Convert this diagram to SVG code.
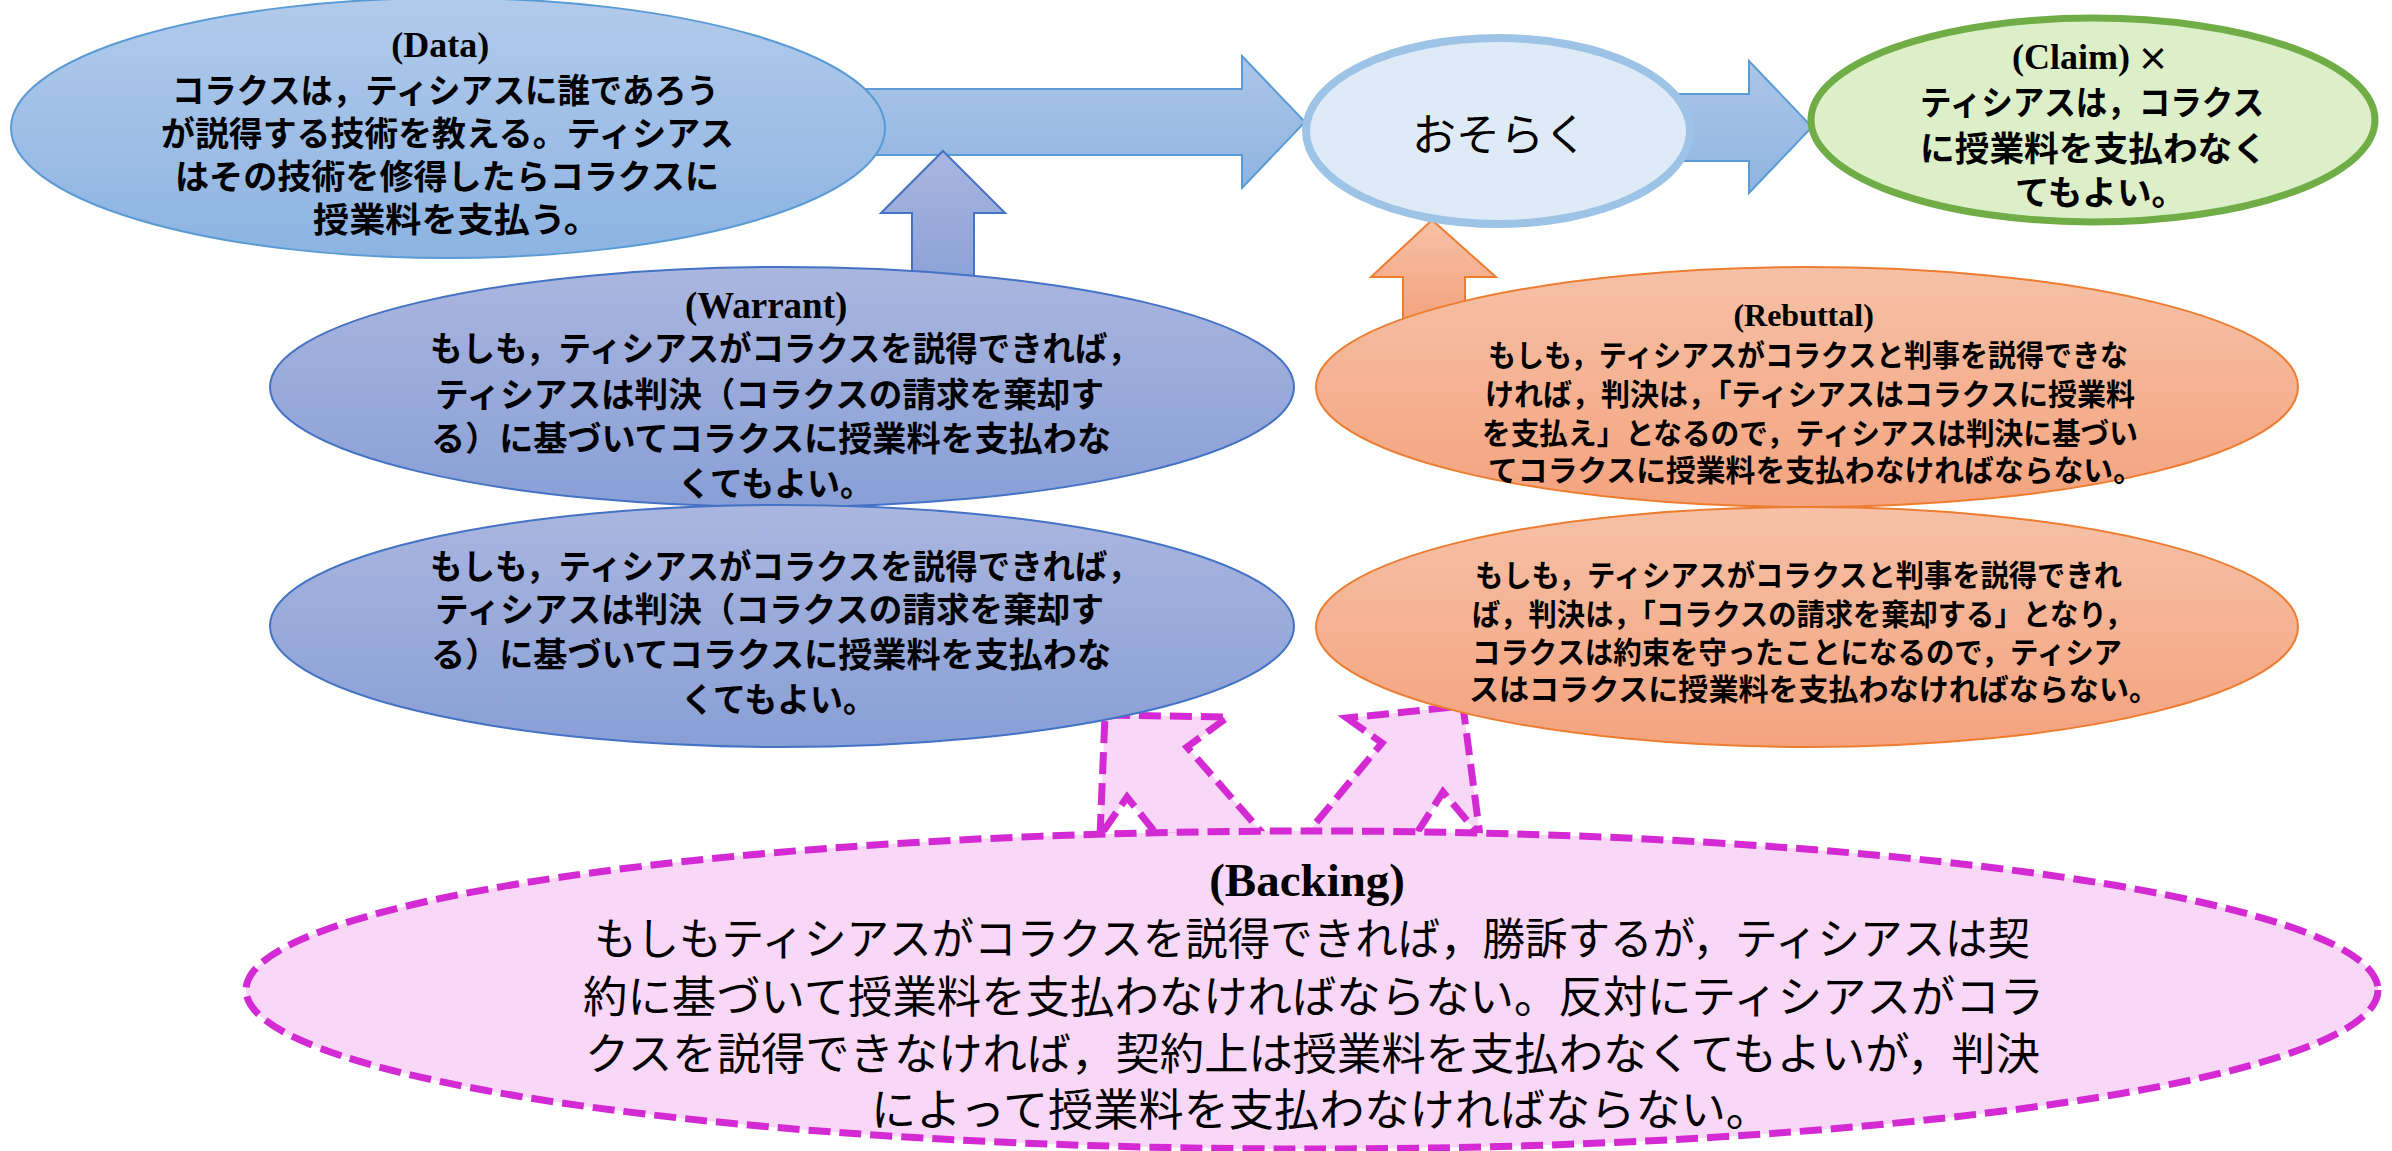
<svg xmlns="http://www.w3.org/2000/svg" width="2392" height="1151" viewBox="0 0 2392 1151">
<defs>
<linearGradient id="gData" x1="0" y1="0" x2="0" y2="1"><stop offset="0" stop-color="#b2cbeb"/><stop offset="1" stop-color="#8cb3e2"/></linearGradient>
<linearGradient id="gArrow" x1="0" y1="0" x2="0" y2="1"><stop offset="0" stop-color="#abc6e8"/><stop offset="1" stop-color="#8fb4e1"/></linearGradient>
<linearGradient id="gWar" x1="0" y1="0" x2="0" y2="1"><stop offset="0" stop-color="#aab6df"/><stop offset="1" stop-color="#889fd6"/></linearGradient>
<linearGradient id="gReb" x1="0" y1="0" x2="0" y2="1"><stop offset="0" stop-color="#f6c1a7"/><stop offset="1" stop-color="#f4a37e"/></linearGradient>
<style>
.jp{font-family:"Noto Sans CJK JP","Noto Sans CJK SC",sans-serif;font-weight:700;fill:#000;}
.jpn{font-family:"Noto Sans CJK JP","Noto Sans CJK SC",sans-serif;font-weight:400;fill:#000;}
.lat{font-family:"Liberation Serif","Times New Roman",serif;font-weight:700;}
.dash{fill:#f9d7f6;stroke:#d42ad4;stroke-width:7;stroke-dasharray:22 9;stroke-linejoin:miter;}
</style>
</defs>
<rect width="2392" height="1151" fill="#fff"/>
<g id="connectors">
<path d="M800,89 L1242,89 L1242,56 L1305,122 L1242,188 L1242,155 L800,155 Z" fill="url(#gArrow)" stroke="#5b9bd5" stroke-width="2"/>
<path d="M1600,94 L1749,94 L1749,61 L1812,127 L1749,193 L1749,161 L1600,161 Z" fill="url(#gArrow)" stroke="#5b9bd5" stroke-width="2"/>
<path d="M943,151 L1005,213 L974,213 L974,295 L912,295 L912,213 L881,213 Z" fill="url(#gWar)" stroke="#4472c4" stroke-width="2"/>
<path d="M1432,220 L1496,277 L1465,277 L1465,320 L1403,320 L1403,277 L1371,277 Z" fill="url(#gReb)" stroke="#ed7d31" stroke-width="2"/>
<polygon class="dash" points="1100,836 1105,715 1228,717 1187,747 1265,836 1158,836 1127,797"/>
<polygon class="dash" points="1347,718 1382,743 1305,836 1415,836 1443,792 1480,836 1463,706"/>
</g>
<g id="data">
<ellipse cx="448" cy="128" rx="437" ry="130" fill="url(#gData)" stroke="#5b9bd5" stroke-width="2"/>
<text class="jp" font-size="34" dominant-baseline="central" lengthAdjust="spacingAndGlyphs">
<tspan class="lat" x="444" y="45" font-size="36" text-anchor="middle">(Data)</tspan>
<tspan x="172" y="88" textLength="547" lengthAdjust="spacingAndGlyphs">コラクスは，ティシアスに誰であろう</tspan>
<tspan x="161" y="131" textLength="573" lengthAdjust="spacingAndGlyphs">が説得する技術を教える。ティシアス</tspan>
<tspan x="175" y="174" textLength="544" lengthAdjust="spacingAndGlyphs">はその技術を修得したらコラクスに</tspan>
<tspan x="313" y="217" textLength="287" lengthAdjust="spacingAndGlyphs">授業料を支払う。</tspan>
</text>
</g>
<g id="probably">
<ellipse cx="1498" cy="131" rx="192" ry="93" fill="#deebf7" stroke="#9dc3e6" stroke-width="8"/>
<text class="jpn" x="1500" y="132" font-size="44" text-anchor="middle" dominant-baseline="central">おそらく</text>
</g>
<g id="claim">
<ellipse cx="2093" cy="120" rx="282" ry="102" fill="#dcefc9" stroke="#70ad47" stroke-width="7"/>
<text class="jp" font-size="34" dominant-baseline="central">
<tspan class="lat" x="2012" y="57" font-size="36">(Claim)</tspan><tspan x="2137" y="57" font-size="32">×</tspan>
<tspan x="1920" y="100" textLength="344" lengthAdjust="spacingAndGlyphs">ティシアスは，コラクス</tspan>
<tspan x="1920" y="146" textLength="347" lengthAdjust="spacingAndGlyphs">に授業料を支払わなく</tspan>
<tspan x="2015" y="190" textLength="171" lengthAdjust="spacingAndGlyphs">てもよい。</tspan>
</text>
</g>
<g id="warrant">
<ellipse cx="782" cy="387" rx="512" ry="120" fill="url(#gWar)" stroke="#4472c4" stroke-width="2"/>
<text class="jp" font-size="34" dominant-baseline="central">
<tspan class="lat" x="770" y="305" font-size="37" text-anchor="middle">(Warrant)</tspan>
<tspan x="430" y="346" textLength="710" lengthAdjust="spacingAndGlyphs">もしも，ティシアスがコラクスを説得できれば，</tspan>
<tspan x="435" y="392" textLength="669" lengthAdjust="spacingAndGlyphs">ティシアスは判決（コラクスの請求を棄却す</tspan>
<tspan x="431" y="436" textLength="680" lengthAdjust="spacingAndGlyphs">る）に基づいてコラクスに授業料を支払わな</tspan>
<tspan x="678" y="481" textLength="195" lengthAdjust="spacingAndGlyphs">くてもよい。</tspan>
</text>
</g>
<g id="warrant2">
<ellipse cx="782" cy="626" rx="512" ry="121" fill="url(#gWar)" stroke="#4472c4" stroke-width="2"/>
<text class="jp" font-size="34" dominant-baseline="central">
<tspan x="430" y="564" textLength="710" lengthAdjust="spacingAndGlyphs">もしも，ティシアスがコラクスを説得できれば，</tspan>
<tspan x="435" y="607" textLength="669" lengthAdjust="spacingAndGlyphs">ティシアスは判決（コラクスの請求を棄却す</tspan>
<tspan x="431" y="652" textLength="680" lengthAdjust="spacingAndGlyphs">る）に基づいてコラクスに授業料を支払わな</tspan>
<tspan x="681" y="697" textLength="195" lengthAdjust="spacingAndGlyphs">くてもよい。</tspan>
</text>
</g>
<g id="rebuttal">
<ellipse cx="1807" cy="387" rx="491" ry="120" fill="url(#gReb)" stroke="#ed7d31" stroke-width="2"/>
<text class="jp" font-size="30" dominant-baseline="central">
<tspan class="lat" x="1807" y="315" font-size="32" text-anchor="middle">(Rebuttal)</tspan>
<tspan x="1488" y="353" textLength="640" lengthAdjust="spacingAndGlyphs">もしも，ティシアスがコラクスと判事を説得できな</tspan>
<tspan x="1485" y="392" textLength="650" lengthAdjust="spacingAndGlyphs">ければ，判決は，「ティシアスはコラクスに授業料</tspan>
<tspan x="1482" y="431" textLength="656" lengthAdjust="spacingAndGlyphs">を支払え」となるので，ティシアスは判決に基づい</tspan>
<tspan x="1488" y="468" textLength="655" lengthAdjust="spacingAndGlyphs">てコラクスに授業料を支払わなければならない。</tspan>
</text>
</g>
<g id="rebuttal2">
<ellipse cx="1807" cy="627" rx="491" ry="120" fill="url(#gReb)" stroke="#ed7d31" stroke-width="2"/>
<text class="jp" font-size="30" dominant-baseline="central">
<tspan x="1475" y="573" textLength="647" lengthAdjust="spacingAndGlyphs">もしも，ティシアスがコラクスと判事を説得できれ</tspan>
<tspan x="1472" y="612" textLength="661" lengthAdjust="spacingAndGlyphs">ば，判決は，「コラクスの請求を棄却する」となり，</tspan>
<tspan x="1472" y="650" textLength="650" lengthAdjust="spacingAndGlyphs">コラクスは約束を守ったことになるので，ティシア</tspan>
<tspan x="1469" y="687" textLength="690" lengthAdjust="spacingAndGlyphs">スはコラクスに授業料を支払わなければならない。</tspan>
</text>
</g>
<g id="backing">
<ellipse cx="1312" cy="990" rx="1066" ry="159" fill="#f9d7f6" stroke="#d42ad4" stroke-width="7" stroke-dasharray="22 9"/>
<text class="jpn" font-size="44" dominant-baseline="central">
<tspan class="lat" x="1312" y="880" font-size="47" text-anchor="middle">(Backing)</tspan>
<tspan x="594" y="936" textLength="1436" lengthAdjust="spacingAndGlyphs">もしもティシアスがコラクスを説得できれば，勝訴するが，ティシアスは契</tspan>
<tspan x="583" y="994" textLength="1461" lengthAdjust="spacingAndGlyphs">約に基づいて授業料を支払わなければならない。反対にティシアスがコラ</tspan>
<tspan x="585" y="1051" textLength="1455" lengthAdjust="spacingAndGlyphs">クスを説得できなければ，契約上は授業料を支払わなくてもよいが，判決</tspan>
<tspan x="871" y="1107" textLength="900" lengthAdjust="spacingAndGlyphs">によって授業料を支払わなければならない。</tspan>
</text>
</g>
</svg>
